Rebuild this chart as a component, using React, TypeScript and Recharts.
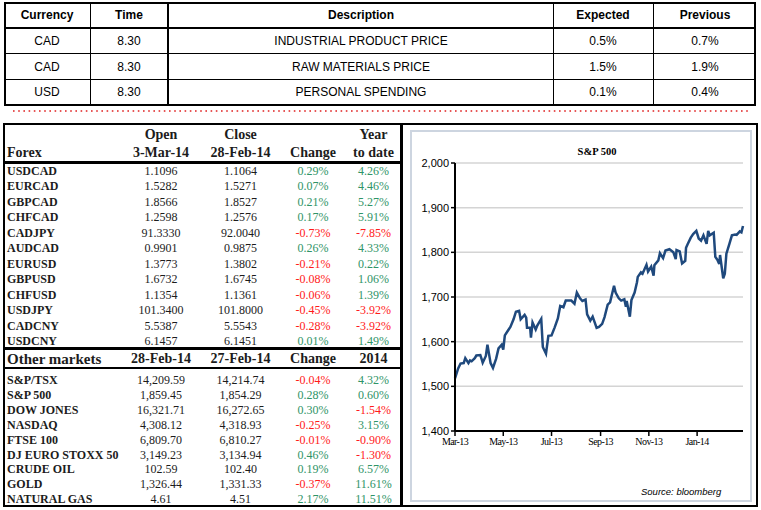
import { LineChart, Line, XAxis, YAxis, CartesianGrid } from 'recharts'

// economic calendar
const eventCurrencies = ['CAD', 'CAD', 'USD']
const eventTimes = ['8.30', '8.30', '8.30']
const eventDescriptions = ['INDUSTRIAL PRODUCT PRICE', 'RAW MATERIALS PRICE', 'PERSONAL SPENDING']
const eventExpected = ['0.5%', '1.5%', '0.1%']
const eventPrevious = ['0.7%', '1.9%', '0.4%']

// forex table
const fxNames = ['USDCAD', 'EURCAD', 'GBPCAD', 'CHFCAD', 'CADJPY', 'AUDCAD', 'EURUSD', 'GBPUSD', 'CHFUSD', 'USDJPY', 'CADCNY', 'USDCNY']
const fxOpen = ['1.1096', '1.5282', '1.8566', '1.2598', '91.3330', '0.9901', '1.3773', '1.6732', '1.1354', '101.3400', '5.5387', '6.1457']
const fxClose = ['1.1064', '1.5271', '1.8527', '1.2576', '92.0040', '0.9875', '1.3802', '1.6745', '1.1361', '101.8000', '5.5543', '6.1451']
const fxChange = ['0.29%', '0.07%', '0.21%', '0.17%', '-0.73%', '0.26%', '-0.21%', '-0.08%', '-0.06%', '-0.45%', '-0.28%', '0.01%']
const fxYtd = ['4.26%', '4.46%', '5.27%', '5.91%', '-7.85%', '4.33%', '0.22%', '1.06%', '1.39%', '-3.92%', '-3.92%', '1.49%']

// other markets
const mkNames = ['S&P/TSX', 'S&P 500', 'DOW JONES', 'NASDAQ', 'FTSE 100', 'DJ EURO STOXX 50', 'CRUDE OIL', 'GOLD', 'NATURAL GAS']
const mkLast = ['14,209.59', '1,859.45', '16,321.71', '4,308.12', '6,809.70', '3,149.23', '102.59', '1,326.44', '4.61']
const mkPrev = ['14,214.74', '1,854.29', '16,272.65', '4,318.93', '6,810.27', '3,134.94', '102.40', '1,331.33', '4.51']
const mkChange = ['-0.04%', '0.28%', '0.30%', '-0.25%', '-0.01%', '0.46%', '0.19%', '-0.37%', '2.17%']
const mkYtd = ['4.32%', '0.60%', '-1.54%', '3.15%', '-0.90%', '-1.30%', '6.57%', '11.61%', '11.51%']

// S&P 500 closes
const spDates = [
  '2013-03-01', '2013-03-05', '2013-03-08', '2013-03-12', '2013-03-14', '2013-03-18', '2013-03-20', '2013-03-22',
  '2013-03-26', '2013-03-28', '2013-04-02', '2013-04-04', '2013-04-05', '2013-04-09', '2013-04-11', '2013-04-15',
  '2013-04-18', '2013-04-22', '2013-04-25', '2013-04-29', '2013-05-01', '2013-05-03', '2013-05-07', '2013-05-10',
  '2013-05-14', '2013-05-17', '2013-05-21', '2013-05-23', '2013-05-28', '2013-05-30', '2013-05-31', '2013-06-04',
  '2013-06-05', '2013-06-07', '2013-06-11', '2013-06-13', '2013-06-18', '2013-06-20', '2013-06-24', '2013-06-27',
  '2013-07-01', '2013-07-05', '2013-07-09', '2013-07-12', '2013-07-16', '2013-07-19', '2013-07-23', '2013-07-26',
  '2013-07-30', '2013-08-02', '2013-08-06', '2013-08-09', '2013-08-13', '2013-08-15', '2013-08-19', '2013-08-22',
  '2013-08-27', '2013-08-30', '2013-09-03', '2013-09-06', '2013-09-10', '2013-09-13', '2013-09-18', '2013-09-20',
  '2013-09-24', '2013-09-27', '2013-10-01', '2013-10-03', '2013-10-04', '2013-10-08', '2013-10-10', '2013-10-14',
  '2013-10-17', '2013-10-18', '2013-10-22', '2013-10-24', '2013-10-29', '2013-10-31', '2013-11-04', '2013-11-07',
  '2013-11-08', '2013-11-13', '2013-11-15', '2013-11-19', '2013-11-22', '2013-11-27', '2013-12-02', '2013-12-05',
  '2013-12-06', '2013-12-10', '2013-12-13', '2013-12-17', '2013-12-18', '2013-12-20', '2013-12-24', '2013-12-27',
  '2013-12-31', '2014-01-03', '2014-01-06', '2014-01-09', '2014-01-13', '2014-01-15', '2014-01-17', '2014-01-22',
  '2014-01-24', '2014-01-27', '2014-01-29', '2014-01-30', '2014-02-03', '2014-02-05', '2014-02-07', '2014-02-11',
  '2014-02-14', '2014-02-18', '2014-02-20', '2014-02-24', '2014-02-26', '2014-02-28',
]
const spValues = [
  1518, 1540, 1551, 1552, 1563, 1552, 1558, 1556,
  1563, 1569, 1570, 1559, 1553, 1568, 1593, 1552,
  1541, 1562, 1585, 1593, 1582, 1614, 1625, 1633,
  1650, 1667, 1669, 1650, 1660, 1654, 1631, 1631,
  1609, 1643, 1627, 1636, 1651, 1588, 1573, 1613,
  1614, 1632, 1652, 1680, 1677, 1692, 1692, 1692,
  1685, 1710, 1697, 1691, 1694, 1661, 1647, 1656,
  1631, 1633, 1640, 1655, 1683, 1688, 1725, 1710,
  1697, 1692, 1695, 1678, 1691, 1656, 1693, 1710,
  1733, 1745, 1755, 1752, 1772, 1757, 1768, 1748,
  1771, 1782, 1798, 1787, 1804, 1807, 1800, 1785,
  1805, 1802, 1775, 1781, 1810, 1818, 1833, 1841,
  1848, 1831, 1826, 1838, 1819, 1848, 1838, 1844,
  1790, 1782, 1774, 1794, 1742, 1752, 1797, 1820,
  1838, 1840, 1839, 1847, 1845, 1859,
]
const xTickDates = ['2013-03-01', '2013-05-01', '2013-07-01', '2013-09-01', '2013-11-01', '2014-01-01']
const xTickLabels = ['Mar-13', 'May-13', 'Jul-13', 'Sep-13', 'Nov-13', 'Jan-14']
const yTicks = [1400, 1500, 1600, 1700, 1800, 1900, 2000]

const ts = (d: string) => {
  const [y, m, day] = d.split('-').map(Number)
  return Date.UTC(y, m - 1, day)
}
const spData = spDates.map((d, i) => ({ t: ts(d), v: spValues[i] }))
const xTicks = xTickDates.map(ts)

const SERIF = '"Liberation Serif", "Times New Roman", serif'
const SANS = '"Liberation Sans", Arial, sans-serif'
const INK = '#1c1c1c'
const GREEN = '#2f9467'
const RED = '#ff1a1a'

const pctColor = (s: string) => (s.startsWith('-') ? RED : GREEN)

function Box({ l, t, w, h, bg = '#000' }: { l: number; t: number; w: number; h: number; bg?: string }) {
  return <div style={{ position: 'absolute', left: l, top: t, width: w, height: h, background: bg }} />
}

function Txt({ x, y, children, align = 'center', w = 140, style }: any) {
  const left = align === 'center' ? x - w / 2 : align === 'right' ? x - w : x
  return (
    <div
      style={{
        position: 'absolute',
        left,
        top: y - 10,
        width: w,
        height: 20,
        lineHeight: '20px',
        textAlign: align,
        whiteSpace: 'nowrap',
        ...style,
      }}
    >
      {children}
    </div>
  )
}

// column centres
const TOP_COLS = [47, 129, 361, 603, 705]
const C_OPEN = 161
const C_CLOSE = 240.5
const C_CHG = 313
const C_YTD = 373.5

export default function App() {
  const topHead = { fontFamily: SANS, fontSize: 12, fontWeight: 700, color: '#000' }
  const topBody = { fontFamily: SANS, fontSize: 12, color: '#000' }
  const head = { fontFamily: SERIF, fontSize: 14, fontWeight: 700, color: INK }
  const name = { fontFamily: SERIF, fontSize: 12, fontWeight: 700, color: INK }
  const num = { fontFamily: SERIF, fontSize: 12, color: INK }
  const fxY = (i: number) => 171 + i * 15.45
  const mkY = (i: number) => 380 + i * 14.9

  return (
    <div style={{ position: 'absolute', left: 0, top: 0, width: 761, height: 510, background: '#fff', overflow: 'hidden' }}>
      {/* calendar table */}
      <Box l={4} t={2} w={752} h={2} />
      <Box l={4} t={104} w={752} h={2} />
      <Box l={4} t={2} w={2} h={104} />
      <Box l={754} t={2} w={2} h={104} />
      <Box l={4} t={27} w={752} h={2} />
      <Box l={4} t={53} w={752} h={1} />
      <Box l={4} t={79} w={752} h={1} />
      <Box l={90} t={2} w={1} h={104} />
      <Box l={167} t={2} w={2} h={104} />
      <Box l={553} t={2} w={1} h={104} />
      <Box l={653} t={2} w={1} h={104} />
      {['Currency', 'Time', 'Description', 'Expected', 'Previous'].map((h, i) => (
        <Txt key={h} x={TOP_COLS[i]} y={15} w={200} style={topHead}>{h}</Txt>
      ))}
      {eventCurrencies.map((c, r) => {
        const y = 41 + r * 25.5
        return (
          <div key={r}>
            <Txt x={TOP_COLS[0]} y={y} style={topBody}>{c}</Txt>
            <Txt x={TOP_COLS[1]} y={y} style={topBody}>{eventTimes[r]}</Txt>
            <Txt x={TOP_COLS[2]} y={y} w={360} style={topBody}>{eventDescriptions[r]}</Txt>
            <Txt x={TOP_COLS[3]} y={y} style={topBody}>{eventExpected[r]}</Txt>
            <Txt x={TOP_COLS[4]} y={y} style={topBody}>{eventPrevious[r]}</Txt>
          </div>
        )
      })}

      {/* red dotted separator */}
      <svg style={{ position: 'absolute', left: 0, top: 105 }} width={761} height={12}>
        <line x1={13} y1={6} x2={749} y2={6} stroke="#e02020" strokeWidth={1.6} strokeDasharray="1.6 3.6" />
      </svg>

      {/* market frame */}
      <Box l={3} t={123} w={755} h={2} />
      <Box l={3} t={505} w={755} h={2} />
      <Box l={3} t={123} w={2} h={384} />
      <Box l={756} t={123} w={2} h={384} />
      <Box l={400} t={123} w={3} h={384} />
      <Box l={3} t={161} w={399} h={3} />
      <Box l={3} t={347} w={399} h={3} />
      <Box l={3} t={367} w={399} h={2} />

      {/* forex header */}
      <Txt x={C_OPEN} y={135} style={head}>Open</Txt>
      <Txt x={C_CLOSE} y={135} style={head}>Close</Txt>
      <Txt x={C_YTD} y={135} style={head}>Year</Txt>
      <Txt x={7} y={153} align="left" style={head}>Forex</Txt>
      <Txt x={C_OPEN} y={153} style={head}>3-Mar-14</Txt>
      <Txt x={C_CLOSE} y={153} style={head}>28-Feb-14</Txt>
      <Txt x={C_CHG} y={153} style={head}>Change</Txt>
      <Txt x={C_YTD} y={153} style={head}>to date</Txt>

      {fxNames.map((n, i) => (
        <div key={n}>
          <Txt x={7} y={fxY(i)} align="left" style={name}>{n}</Txt>
          <Txt x={C_OPEN} y={fxY(i)} style={num}>{fxOpen[i]}</Txt>
          <Txt x={C_CLOSE} y={fxY(i)} style={num}>{fxClose[i]}</Txt>
          <Txt x={C_CHG} y={fxY(i)} style={{ ...num, color: pctColor(fxChange[i]) }}>{fxChange[i]}</Txt>
          <Txt x={C_YTD} y={fxY(i)} style={{ ...num, color: pctColor(fxYtd[i]) }}>{fxYtd[i]}</Txt>
        </div>
      ))}

      {/* other markets header */}
      <Txt x={7} y={359} align="left" style={{ ...head, fontSize: 15 }}>Other markets</Txt>
      <Txt x={C_OPEN} y={359} style={head}>28-Feb-14</Txt>
      <Txt x={C_CLOSE} y={359} style={head}>27-Feb-14</Txt>
      <Txt x={C_CHG} y={359} style={head}>Change</Txt>
      <Txt x={C_YTD} y={359} style={head}>2014</Txt>

      {mkNames.map((n, i) => (
        <div key={n}>
          <Txt x={7} y={mkY(i)} align="left" style={name}>{n}</Txt>
          <Txt x={C_OPEN} y={mkY(i)} style={num}>{mkLast[i]}</Txt>
          <Txt x={C_CLOSE} y={mkY(i)} style={num}>{mkPrev[i]}</Txt>
          <Txt x={C_CHG} y={mkY(i)} style={{ ...num, color: pctColor(mkChange[i]) }}>{mkChange[i]}</Txt>
          <Txt x={C_YTD} y={mkY(i)} style={{ ...num, color: pctColor(mkYtd[i]) }}>{mkYtd[i]}</Txt>
        </div>
      ))}

      {/* S&P 500 chart panel */}
      <div
        style={{
          position: 'absolute',
          left: 410,
          top: 130,
          width: 342,
          height: 372,
          border: '2px solid #cdd5e0',
          boxSizing: 'border-box',
        }}
      />
      <Txt x={597} y={152} style={{ fontFamily: SERIF, fontSize: 10.5, fontWeight: 700, color: '#000' }}>S&amp;P 500</Txt>
      <div style={{ position: 'absolute', left: 410, top: 130 }}>
        <LineChart width={342} height={370} data={spData} margin={{ top: 33, right: 9, bottom: 39, left: 5 }}>
          <CartesianGrid vertical={false} stroke="#d4d4d4" strokeWidth={1.5} />
          <XAxis
            dataKey="t"
            type="number"
            domain={[ts('2013-03-01'), ts('2014-02-28')]}
            ticks={xTicks}
            interval={0}
            height={30}
            tickFormatter={(v: number) => xTickLabels[xTicks.indexOf(v)] ?? ''}
            axisLine={{ stroke: '#000', strokeWidth: 2 }}
            tickLine={{ stroke: '#000', strokeWidth: 1.5 }}
            tickSize={5}
            tick={{ fill: '#000', fontSize: 10, fontFamily: SERIF, letterSpacing: -0.6 }}
          />
          <YAxis
            domain={[1400, 2000]}
            ticks={yTicks}
            interval={0}
            width={40}
            tickFormatter={(v: number) => v.toLocaleString('en-US')}
            axisLine={{ stroke: '#000', strokeWidth: 2 }}
            tickLine={{ stroke: '#000', strokeWidth: 1.5 }}
            tickSize={4}
            tick={{ fill: '#000', fontSize: 11, fontFamily: SANS }}
          />
          <Line
            type="linear"
            dataKey="v"
            stroke="#1f497d"
            strokeWidth={2.5}
            dot={false}
            isAnimationActive={false}
          />
        </LineChart>
      </div>
      <Txt x={641} y={492} align="left" style={{ fontFamily: SANS, fontSize: 9.5, fontStyle: 'italic', color: '#000' }}>
        Source: bloomberg
      </Txt>
    </div>
  )
}
